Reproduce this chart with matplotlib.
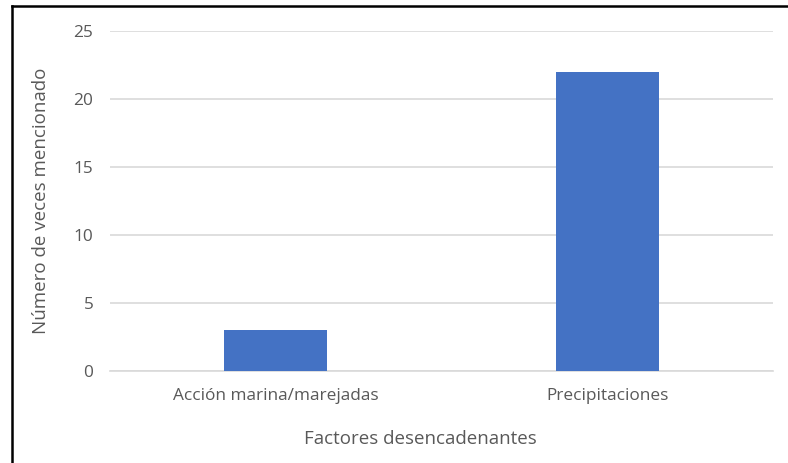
import matplotlib
matplotlib.use('Agg')
import matplotlib.pyplot as plt
from matplotlib.lines import Line2D

# Factores y número de menciones
factores = ['Acción marina/marejadas', 'Precipitaciones']
menciones = [3, 22]
y_ticks = [0, 5, 10, 15, 20, 25]

gris_texto = '#595959'
azul = '#4472C4'

plt.rcParams['font.family'] = ['Open Sans', 'DejaVu Sans']

fig = plt.figure(figsize=(7.88, 4.63), dpi=100)
ax = fig.add_axes([0.1396, 0.1987, 0.8414, 0.7343])

x = range(len(factores))
ax.bar(x, menciones, width=0.31, color=azul, zorder=3)

ax.set_xlim(-0.5, 1.5)
ax.set_ylim(0, 25)
ax.set_xticks(list(x))
ax.set_xticklabels(factores)
ax.set_yticks(y_ticks)

ax.grid(axis='y', color='#d9d9d9', linewidth=1.2, zorder=0)
for s in ['top', 'right', 'left']:
    ax.spines[s].set_visible(False)
ax.spines['bottom'].set_color('#d9d9d9')
ax.spines['bottom'].set_linewidth(1.2)
ax.tick_params(axis='both', length=0, labelsize=12.4, colors=gris_texto)
ax.tick_params(axis='x', pad=12)
ax.tick_params(axis='y', pad=12)

ax.set_xlabel('Factores desencadenantes', fontsize=13.5, color=gris_texto, labelpad=19)
ax.xaxis.label.set_x(0.468)
ax.set_ylabel('Número de veces mencionado', fontsize=13.5, color=gris_texto, labelpad=17)

# Marco superior e izquierdo
fig.add_artist(Line2D([11.5 / 788, 1.0], [1 - 5.5 / 463] * 2, color='black', linewidth=1.8,
                      transform=fig.transFigure))
fig.add_artist(Line2D([11.5 / 788] * 2, [0.0, 1 - 5.5 / 463], color='black', linewidth=1.8,
                      transform=fig.transFigure))

fig.savefig('out.png', dpi=100)
